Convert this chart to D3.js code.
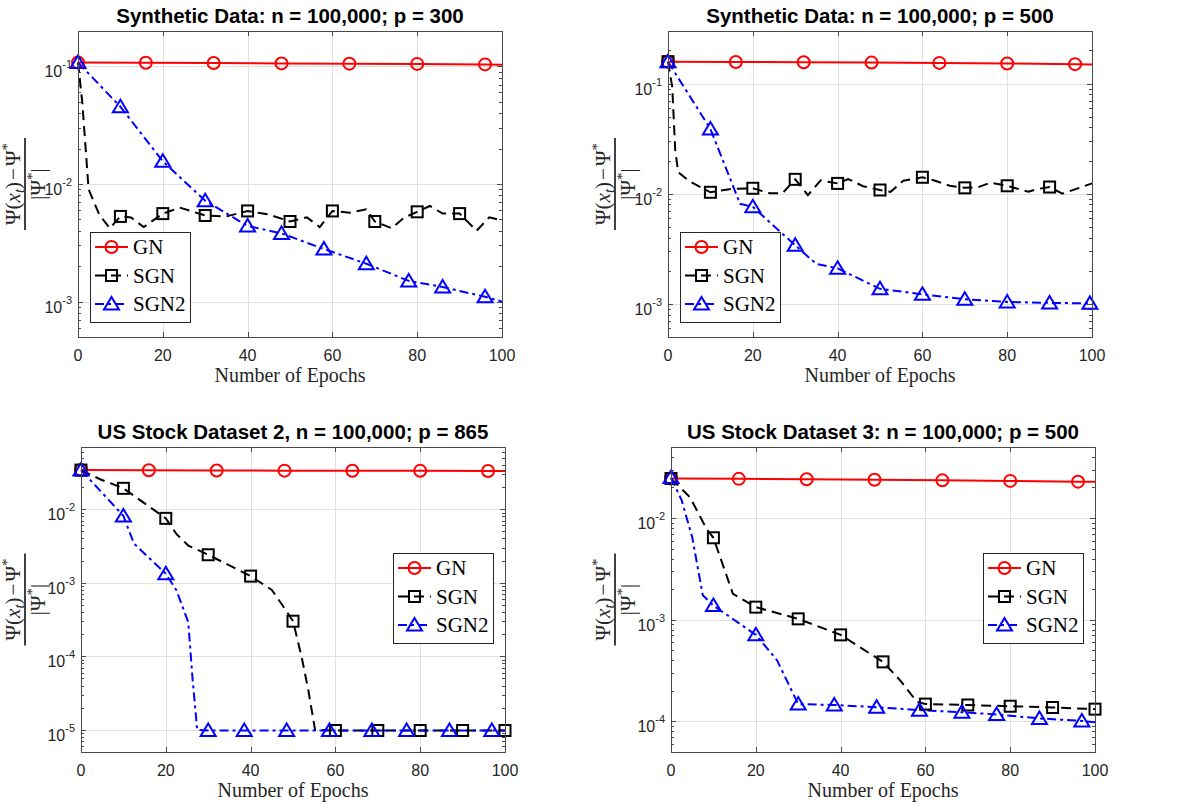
<!DOCTYPE html>
<html>
<head>
  <meta charset="utf-8">
  <script src="https://d3js.org/d3.v7.min.js"></script>
  <style>
    html, body { margin: 0; padding: 0; background: #fff; }
    svg { display: block; }
    .sans { font-family: "Liberation Sans", Arial, Helvetica, sans-serif; }
    .serif { font-family: "Liberation Serif", "Times New Roman", serif; }
  </style>
</head>
<body>
  <div id="chart"></div>
  <script>
    // ---------- data ----------
    var titles = [
      "Synthetic Data: n = 100,000; p = 300",
      "Synthetic Data: n = 100,000; p = 500",
      "US Stock Dataset 2, n = 100,000; p = 865",
      "US Stock Dataset 3: n = 100,000; p = 500"
    ];
    var seriesNames = ["GN", "SGN", "SGN2"];
    var epochTicks = [0, 20, 40, 60, 80, 100];
    var xLabel = "Number of Epochs";

    // panel 1 : synthetic p = 300
    var p1GnX = [0, 16, 32, 48, 64, 80, 96, 100];
    var p1GnY = [0.108, 0.1075, 0.107, 0.106, 0.1055, 0.105, 0.104, 0.1035];
    var p1GnM = [0, 16, 32, 48, 64, 80, 96];
    var p1SgnX = [0, 1, 2.5, 5, 7.5, 10, 12.5, 15.5, 20, 24, 30, 35, 40, 45, 50, 54, 57, 60, 64, 68, 70, 74, 77, 80, 83, 86, 90, 94, 97, 100];
    var p1SgnY = [0.108, 0.05, 0.009, 0.0055, 0.0042, 0.0053, 0.0052, 0.0043, 0.0056, 0.0063, 0.0054, 0.0053, 0.0059, 0.0055, 0.0048, 0.0052, 0.0043, 0.0059, 0.0057, 0.0061, 0.0048, 0.0042, 0.0052, 0.0058, 0.0065, 0.0056, 0.0056, 0.004, 0.0052, 0.0049];
    var p1SgnM = [10, 20, 30, 40, 50, 60, 70, 80, 90];
    var p1Sgn2X = [0, 10, 20, 30, 40, 48, 58, 68, 78, 86, 96, 100];
    var p1Sgn2Y = [0.108, 0.0454, 0.0156, 0.0072, 0.0044, 0.0038, 0.0028, 0.0021, 0.0015, 0.00133, 0.0011, 0.001];
    var p1Sgn2M = [0, 10, 20, 30, 40, 48, 58, 68, 78, 86, 96];

    // panel 2 : synthetic p = 500
    var p2GnX = [0, 16, 32, 48, 64, 80, 96, 100];
    var p2GnY = [0.158, 0.157, 0.156, 0.155, 0.154, 0.152, 0.150, 0.149];
    var p2GnM = [0, 16, 32, 48, 64, 80, 96];
    var p2SgnX = [0, 1, 1.7, 2.4, 5, 10, 14.5, 20, 24, 27, 30, 33, 36, 40, 42.5, 46, 50, 52.5, 55.5, 60, 63, 66.5, 70, 73, 76, 80, 85, 87, 90, 93, 100];
    var p2SgnY = [0.158, 0.093, 0.025, 0.0157, 0.013, 0.0103, 0.011, 0.0112, 0.0101, 0.0101, 0.0135, 0.0097, 0.0132, 0.0124, 0.0136, 0.0117, 0.0108, 0.0104, 0.0131, 0.0141, 0.0131, 0.0118, 0.0113, 0.0114, 0.0126, 0.0118, 0.0104, 0.011, 0.0115, 0.010, 0.0124];
    var p2SgnM = [0, 10, 20, 30, 40, 50, 60, 70, 80, 90];
    var p2Sgn2X = [0, 10, 17, 20, 30, 35, 40, 50, 60, 70, 80, 90, 99.5, 100];
    var p2Sgn2Y = [0.158, 0.0387, 0.0081, 0.0076, 0.0034, 0.0023, 0.0021, 0.00137, 0.00122, 0.0011, 0.00104, 0.00102, 0.00101, 0.00101];
    var p2Sgn2M = [0, 10, 20, 30, 40, 50, 60, 70, 80, 90, 99.5];

    // panel 3 : US stock dataset 2
    var p3GnX = [0, 16, 32, 48, 64, 80, 96, 100];
    var p3GnY = [0.034, 0.0338, 0.0336, 0.0334, 0.0333, 0.0332, 0.033, 0.033];
    var p3GnM = [0, 16, 32, 48, 64, 80, 96];
    var p3SgnX = [0, 4.5, 10, 20, 22.5, 25.3, 30, 40, 45, 48, 50, 52, 53.6, 55.2, 60, 70, 80, 90, 100];
    var p3SgnY = [0.034, 0.0255, 0.0192, 0.0075, 0.0046, 0.0032, 0.0024, 0.00123, 0.0008, 0.00045, 0.0003, 0.0001, 0.000035, 0.00001, 0.0000098, 0.0000098, 0.0000098, 0.0000098, 0.0000098];
    var p3SgnM = [0, 10, 20, 30, 40, 50, 60, 70, 80, 90, 100];
    var p3Sgn2X = [0, 6, 10, 12.5, 20, 22.5, 25.3, 26.3, 27.4, 30, 38.5, 48.5, 58.6, 68.6, 76.8, 86.9, 96.9, 100];
    var p3Sgn2Y = [0.034, 0.0144, 0.0081, 0.0034, 0.00132, 0.00079, 0.00029, 0.00005, 0.00001, 0.0000098, 0.0000098, 0.0000098, 0.0000098, 0.0000098, 0.0000098, 0.0000098, 0.0000098, 0.0000098];
    var p3Sgn2M = [0, 10, 20, 30, 38.5, 48.5, 58.6, 68.6, 76.8, 86.9, 96.9];

    // panel 4 : US stock dataset 3
    var p4GnX = [0, 16, 32, 48, 64, 80, 96, 100];
    var p4GnY = [0.0245, 0.0243, 0.0241, 0.0238, 0.0235, 0.0232, 0.0228, 0.0227];
    var p4GnM = [0, 16, 32, 48, 64, 80, 96];
    var p4SgnX = [0, 4.5, 8.4, 10, 14.6, 20, 30, 40, 50, 54, 58, 60, 70, 80, 90, 100];
    var p4SgnY = [0.0245, 0.016, 0.0078, 0.0064, 0.0018, 0.00133, 0.00102, 0.00071, 0.000385, 0.000254, 0.000156, 0.000148, 0.000145, 0.000141, 0.000137, 0.000132];
    var p4SgnM = [0, 10, 20, 30, 40, 50, 60, 70, 80, 90, 100];
    var p4Sgn2X = [0, 2.5, 5, 7.5, 10, 20, 25, 30, 38.5, 48.5, 58.6, 68.6, 76.8, 86.9, 96.9, 100];
    var p4Sgn2Y = [0.025, 0.015, 0.0065, 0.00174, 0.00138, 0.00071, 0.0004, 0.000148, 0.000145, 0.000138, 0.000129, 0.000123, 0.000117, 0.000107, 0.000101, 0.000098];
    var p4Sgn2M = [0, 10, 20, 30, 38.5, 48.5, 58.6, 68.6, 76.8, 86.9, 96.9];

    // ---------- styles ----------
    var styles = {
      GN:   { color: "#ff0000", dash: null,      marker: "circle" },
      SGN:  { color: "#000000", dash: "10,6",    marker: "square" },
      SGN2: { color: "#0000ff", dash: "9,4,3,4", marker: "triangle" }
    };

    function series(name, xs, ys, marks) {
      return { name: name, points: xs.map((x, i) => [x, ys[i]]), marks: marks };
    }

    var panels = [
      { title: titles[0], ox: 0,   left: 78,  right: 502,  top: 31,  bottom: 337, yMin: 5e-4, yMax: 0.2,  yTicks: [1e-3, 1e-2, 1e-1], legendX: 90,  legendY: 232,
        series: [series("GN", p1GnX, p1GnY, p1GnM), series("SGN", p1SgnX, p1SgnY, p1SgnM), series("SGN2", p1Sgn2X, p1Sgn2Y, p1Sgn2M)] },
      { title: titles[1], ox: 590, left: 668, right: 1092, top: 31,  bottom: 337, yMin: 5e-4, yMax: 0.3,  yTicks: [1e-3, 1e-2, 1e-1], legendX: 680, legendY: 232,
        series: [series("GN", p2GnX, p2GnY, p2GnM), series("SGN", p2SgnX, p2SgnY, p2SgnM), series("SGN2", p2Sgn2X, p2Sgn2Y, p2Sgn2M)] },
      { title: titles[2], ox: 0,   left: 81,  right: 505,  top: 447, bottom: 752, yMin: 5e-6, yMax: 0.07, yTicks: [1e-5, 1e-4, 1e-3, 1e-2], legendX: 393, legendY: 553,
        series: [series("GN", p3GnX, p3GnY, p3GnM), series("SGN", p3SgnX, p3SgnY, p3SgnM), series("SGN2", p3Sgn2X, p3Sgn2Y, p3Sgn2M)] },
      { title: titles[3], ox: 590, left: 671, right: 1095, top: 447, bottom: 752, yMin: 5e-5, yMax: 0.05, yTicks: [1e-4, 1e-3, 1e-2], legendX: 983, legendY: 553,
        series: [series("GN", p4GnX, p4GnY, p4GnM), series("SGN", p4SgnX, p4SgnY, p4SgnM), series("SGN2", p4Sgn2X, p4Sgn2Y, p4Sgn2M)] }
    ];

    var svg = d3.select("#chart").append("svg")
      .attr("width", 1180)
      .attr("height", 807);

    function drawMarker(g, type, cx, cy, color) {
      if (type === "circle") {
        g.append("circle").attr("cx", cx).attr("cy", cy).attr("r", 6)
          .attr("fill", "none").attr("stroke", color).attr("stroke-width", 2);
      } else if (type === "square") {
        g.append("rect").attr("x", cx - 5.5).attr("y", cy - 5.5).attr("width", 11).attr("height", 11)
          .attr("fill", "none").attr("stroke", color).attr("stroke-width", 2);
      } else {
        g.append("path")
          .attr("d", "M" + cx + "," + (cy - 7) + " L" + (cx + 7.5) + "," + (cy + 5.5) + " L" + (cx - 7.5) + "," + (cy + 5.5) + " Z")
          .attr("fill", "none").attr("stroke", color).attr("stroke-width", 2).attr("stroke-linejoin", "miter");
      }
    }

    function expLabel(sel, value) {
      var e = Math.round(Math.log10(value));
      sel.append("tspan").text("10");
      sel.append("tspan").attr("font-size", 11).attr("dy", -9).text(String(e));
    }

    panels.forEach(function(p) {
      var g = svg.append("g");

      var x = d3.scaleLinear().domain([0, 100]).range([p.left, p.right]);
      var y = d3.scaleLog().domain([p.yMin, p.yMax]).range([p.bottom, p.top]);

      // grid
      g.selectAll(null).data(epochTicks.slice(1, -1)).enter().append("line")
        .attr("x1", d => Math.round(x(d)) + 0.5).attr("x2", d => Math.round(x(d)) + 0.5)
        .attr("y1", p.top).attr("y2", p.bottom)
        .attr("stroke", "#e0e0e0").attr("stroke-width", 1);
      g.selectAll(null).data(p.yTicks).enter().append("line")
        .attr("x1", p.left).attr("x2", p.right)
        .attr("y1", d => Math.round(y(d)) + 0.5).attr("y2", d => Math.round(y(d)) + 0.5)
        .attr("stroke", "#e0e0e0").attr("stroke-width", 1);

      // ticks (inside, both sides)
      var ticks = g.append("g").attr("stroke", "#4a4a4a").attr("stroke-width", 1);
      epochTicks.forEach(function(t) {
        var xx = Math.round(x(t)) + 0.5;
        ticks.append("line").attr("x1", xx).attr("x2", xx).attr("y1", p.bottom).attr("y2", p.bottom - 5);
        ticks.append("line").attr("x1", xx).attr("x2", xx).attr("y1", p.top).attr("y2", p.top + 5);
      });
      var lo = Math.floor(Math.log10(p.yMin)), hi = Math.ceil(Math.log10(p.yMax));
      for (var e = lo; e <= hi; e++) {
        for (var m = 1; m <= 9; m++) {
          var v = m * Math.pow(10, e);
          if (v < p.yMin || v > p.yMax) continue;
          var yy = Math.round(y(v)) + 0.5;
          var len = m === 1 ? 5 : 3;
          ticks.append("line").attr("x1", p.left).attr("x2", p.left + len).attr("y1", yy).attr("y2", yy);
          ticks.append("line").attr("x1", p.right).attr("x2", p.right - len).attr("y1", yy).attr("y2", yy);
        }
      }

      // series lines
      var line = d3.line().x(d => x(d[0])).y(d => y(d[1]));
      p.series.forEach(function(s) {
        var st = styles[s.name];
        g.append("path")
          .datum(s.points)
          .attr("fill", "none")
          .attr("stroke", st.color)
          .attr("stroke-width", 2)
          .attr("stroke-dasharray", st.dash)
          .attr("d", line);
      });
      // markers
      p.series.forEach(function(s) {
        var st = styles[s.name];
        s.points.filter(d => s.marks.indexOf(d[0]) >= 0).forEach(function(d) {
          drawMarker(g, st.marker, x(d[0]), y(d[1]), st.color);
        });
      });

      // box
      g.append("rect")
        .attr("x", p.left + 0.5).attr("y", p.top + 0.5)
        .attr("width", p.right - p.left).attr("height", p.bottom - p.top)
        .attr("fill", "none").attr("stroke", "#4a4a4a").attr("stroke-width", 1);

      // tick labels
      epochTicks.forEach(function(t) {
        g.append("text").attr("class", "sans")
          .attr("x", x(t)).attr("y", p.bottom + 24)
          .attr("text-anchor", "middle")
          .attr("font-size", 16).attr("fill", "#262626")
          .text(t);
      });
      p.yTicks.forEach(function(t) {
        var tx = g.append("text").attr("class", "sans")
          .attr("x", p.left - 6).attr("y", y(t) + 11)
          .attr("text-anchor", "end")
          .attr("font-size", 16).attr("fill", "#262626");
        expLabel(tx, t);
      });

      // title
      g.append("text").attr("class", "sans")
        .attr("x", (p.left + p.right) / 2).attr("y", p.top - 8)
        .attr("text-anchor", "middle")
        .attr("font-size", 20.5).attr("font-weight", "bold").attr("fill", "#000")
        .text(p.title);

      // x label
      g.append("text").attr("class", "serif")
        .attr("x", (p.left + p.right) / 2).attr("y", p.bottom + 45)
        .attr("text-anchor", "middle")
        .attr("font-size", 20).attr("fill", "#262626")
        .text(xLabel);

      // y label: fraction (Psi(x_t) - Psi*) / |Psi*|
      var cy = (p.top + p.bottom) / 2;
      var yl = g.append("g").attr("transform", "translate(" + (p.ox + 25) + "," + cy + ") rotate(-90)");
      yl.append("line").attr("x1", -46).attr("x2", 46).attr("y1", 0).attr("y2", 0)
        .attr("stroke", "#000").attr("stroke-width", 1.5);
      var num = yl.append("text").attr("class", "serif")
        .attr("x", 0).attr("y", -5).attr("text-anchor", "middle")
        .attr("font-size", 21).attr("fill", "#262626");
      num.append("tspan").text("Ψ(");
      num.append("tspan").attr("font-style", "italic").text("x");
      num.append("tspan").attr("font-style", "italic").attr("font-size", 15).attr("dy", 4).text("t");
      num.append("tspan").attr("dy", -4).text(")");
      num.append("tspan").attr("dx", 2).text("−");
      num.append("tspan").attr("dx", 2).text("Ψ");
      num.append("tspan").attr("font-size", 15).attr("dy", -8).text("*");
      var den = yl.append("text").attr("class", "serif")
        .attr("x", 0).attr("y", 20).attr("text-anchor", "middle")
        .attr("font-size", 21).attr("fill", "#262626");
      den.append("tspan").text("|Ψ");
      den.append("tspan").attr("font-size", 15).attr("dy", -8).text("*");
      den.append("tspan").attr("dy", 8).text("|");

      // legend
      var lg = g.append("g").attr("transform", "translate(" + p.legendX + "," + p.legendY + ")");
      lg.append("rect").attr("x", 0.5).attr("y", 0.5).attr("width", 100).attr("height", 90)
        .attr("fill", "#fff").attr("stroke", "#262626").attr("stroke-width", 1);
      seriesNames.forEach(function(name, i) {
        var st = styles[name];
        var ry = 15 + i * 28.5;
        lg.append("line").attr("x1", 5).attr("x2", 38).attr("y1", ry).attr("y2", ry)
          .attr("stroke", st.color).attr("stroke-width", 2).attr("stroke-dasharray", st.dash);
        drawMarker(lg, st.marker, 21.5, ry, st.color);
        lg.append("text").attr("class", "serif")
          .attr("x", 43).attr("y", ry + 7)
          .attr("font-size", 21).attr("fill", "#000")
          .text(name);
      });
    });
  </script>
</body>
</html>
